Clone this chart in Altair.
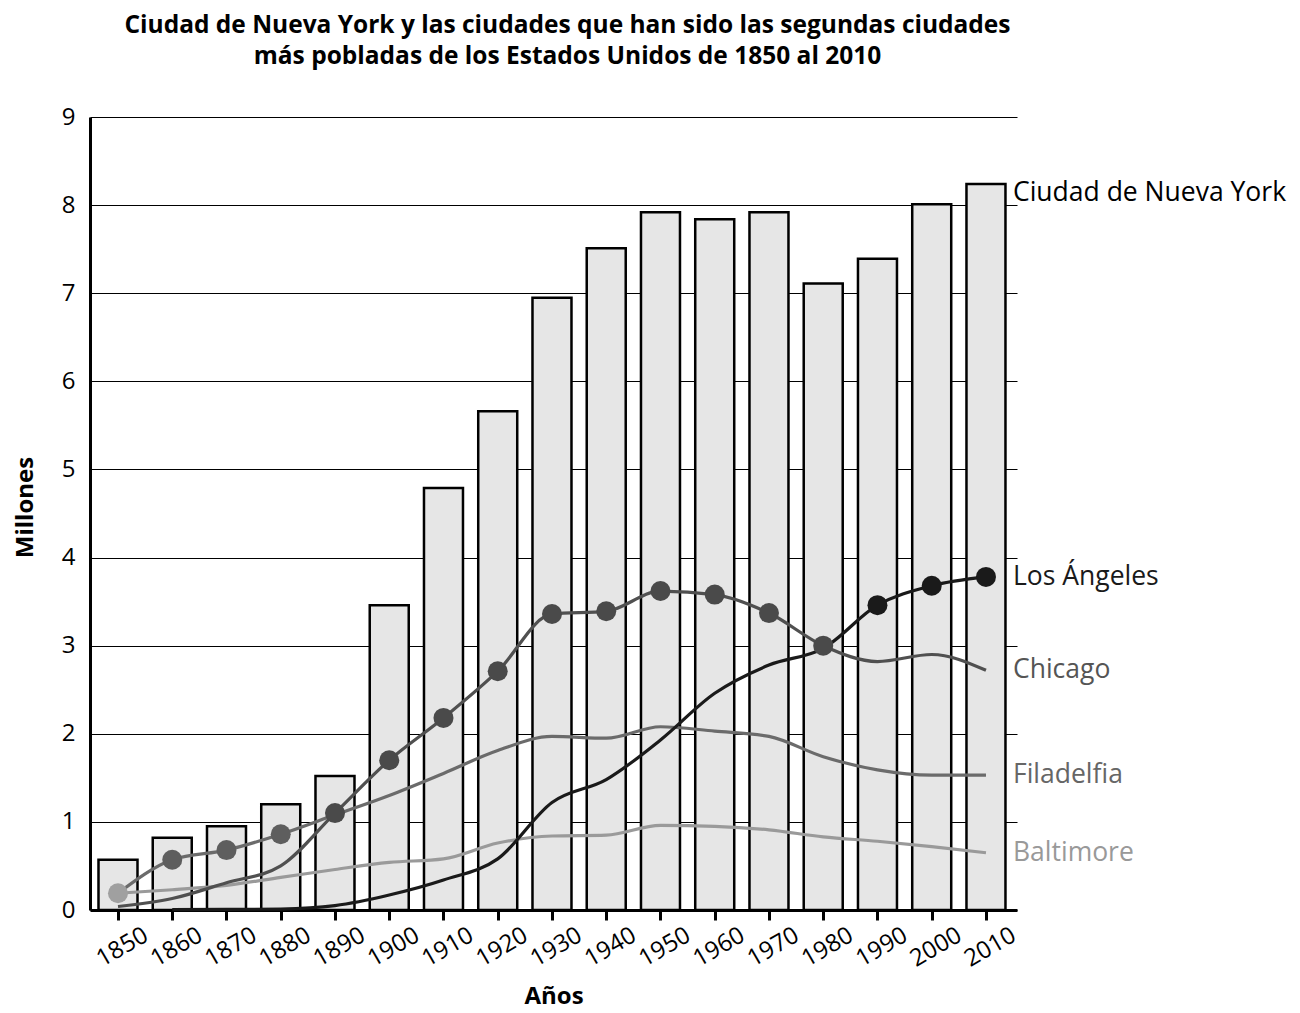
import altair as alt
import pandas as pd

years = [1850, 1860, 1870, 1880, 1890, 1900, 1910, 1920, 1930, 1940,
         1950, 1960, 1970, 1980, 1990, 2000, 2010]
nyc = [0.57, 0.82, 0.95, 1.20, 1.52, 3.46, 4.79, 5.66, 6.95, 7.51,
       7.92, 7.84, 7.92, 7.11, 7.39, 8.01, 8.24]
la_years = years[1:]
los_angeles = [0.005, 0.006, 0.011, 0.05, 0.17, 0.34, 0.58, 1.22, 1.48,
               1.93, 2.46, 2.78, 2.97, 3.46, 3.68, 3.78]
chicago = [0.04, 0.13, 0.31, 0.50, 1.10, 1.70, 2.18, 2.71, 3.36, 3.39,
           3.62, 3.58, 3.37, 3.00, 2.82, 2.90, 2.72]
filadelfia = [0.19, 0.57, 0.68, 0.86, 1.08, 1.30, 1.55, 1.81, 1.97, 1.95,
              2.08, 2.03, 1.97, 1.74, 1.59, 1.53, 1.53]
baltimore = [0.19, 0.23, 0.28, 0.37, 0.46, 0.54, 0.58, 0.76, 0.84, 0.85,
             0.96, 0.95, 0.91, 0.83, 0.78, 0.72, 0.65]
second_city = (["Baltimore"] + ["Filadelfia"] * 3 + ["Chicago"] * 10
               + ["Los Ángeles"] * 3)

cities = ["Baltimore", "Filadelfia", "Chicago", "Los Ángeles"]
line_colors = ["#9a9a9a", "#6b6b6b", "#505050", "#1a1a1a"]
point_colors = ["#a0a0a0", "#5e5e5e", "#4a4a4a", "#1a1a1a"]
label_colors = ["#999999", "#666666", "#555555", "#1a1a1a"]

FONT = "Open Sans"
BFONT = "Open Sans"

series = {
    "Baltimore": (years, baltimore),
    "Filadelfia": (years, filadelfia),
    "Chicago": (years, chicago),
    "Los Ángeles": (la_years, los_angeles),
}

bars_df = pd.DataFrame({"year": years, "value": nyc})
lines_df = pd.DataFrame(
    [{"city": c, "year": y, "value": v}
     for c in cities for y, v in zip(*series[c])]
)
lookup = {c: dict(zip(*series[c])) for c in cities}
points_df = pd.DataFrame(
    [{"city": c, "year": y, "value": lookup[c][y]}
     for y, c in zip(years, second_city)]
)
labels_df = pd.DataFrame(
    [{"city": c, "year": series[c][0][-1], "value": series[c][1][-1]}
     for c in cities]
)
nyc_label_df = pd.DataFrame(
    {"city": ["Ciudad de Nueva York"], "year": [years[-1]], "value": [nyc[-1]]}
)

xscale = alt.Scale(domain=[1844.84, 2015.72], nice=False, zero=False, padding=0)
yscale = alt.Scale(domain=[0, 9], nice=False, padding=0)

xaxis = alt.Axis(
    values=years, format="d", labelAngle=-30, labelAlign="center",
    labelBaseline="middle", labelPadding=27, labelOffset=4,
    labelOverlap=False, labelBound=False, labelFlush=False,
    labelFont=FONT, labelFontSize=24, labelColor="black",
    tickSize=10, tickWidth=3, tickColor="black",
    domainColor="black", domainWidth=3, grid=False,
    title="Años", titleFont=BFONT, titleFontSize=24, titleFontWeight="bold",
    titleColor="black", titleY=86, titleBaseline="middle",
)
yaxis = alt.Axis(
    values=list(range(10)), format="d", labelFont=FONT, labelFontSize=24,
    labelColor="black", labelPadding=15, ticks=False,
    domainColor="black", domainWidth=3,
    grid=True, gridColor="black", gridWidth=1.2,
    title="Millones", titleFont=BFONT, titleFontSize=24,
    titleFontWeight="bold", titleColor="black", titleX=-65, titleY=390,
    titleBaseline="middle",
)

bars = alt.Chart(bars_df).mark_bar(
    size=39, fill="#e6e6e6", stroke="black", strokeWidth=2.5
).encode(
    x=alt.X("year:Q", scale=xscale, axis=xaxis),
    y=alt.Y("value:Q", scale=yscale, axis=yaxis),
)

lines = alt.Chart(lines_df).mark_line(
    interpolate="monotone", strokeWidth=3.2
).encode(
    x=alt.X("year:Q", scale=xscale),
    y=alt.Y("value:Q", scale=yscale),
    color=alt.Color("city:N", scale=alt.Scale(domain=cities, range=line_colors),
                    legend=None),
    order=alt.Order("year:Q"),
)

points = alt.Chart(points_df).mark_point(
    filled=True, size=400, opacity=1, shape="circle"
).encode(
    x=alt.X("year:Q", scale=xscale),
    y=alt.Y("value:Q", scale=yscale),
    color=alt.Color("city:N", scale=alt.Scale(domain=cities, range=point_colors),
                    legend=None),
)

labels = alt.Chart(labels_df).mark_text(
    align="left", baseline="middle", dx=27, font=FONT, fontSize=26.5
).encode(
    x=alt.X("year:Q", scale=xscale),
    y=alt.Y("value:Q", scale=yscale),
    text="city:N",
    color=alt.Color("city:N", scale=alt.Scale(domain=cities, range=label_colors),
                    legend=None),
)

nyc_label = alt.Chart(nyc_label_df).mark_text(
    align="left", baseline="middle", dx=27, dy=9, font=FONT, fontSize=26.5,
    color="black"
).encode(
    x=alt.X("year:Q", scale=xscale),
    y=alt.Y("value:Q", scale=yscale),
    text="city:N",
)

chart = alt.layer(bars, lines, points, labels, nyc_label).resolve_scale(
    color="independent"
).properties(
    width=927, height=793, autosize="none",
    padding={"left": 82, "top": 109, "right": 275, "bottom": 100},
    title=alt.TitleParams(
        text=["Ciudad de Nueva York y las ciudades que han sido las segundas ciudades",
              "más pobladas de los Estados Unidos de 1850 al 2010"],
        font=BFONT, fontSize=24.5, fontWeight="bold", color="black",
        anchor="middle", frame="group", lineHeight=31, offset=36, dx=14,
    ),
).configure_view(stroke=None)

chart.save("out.html", embed_options={"renderer": "svg", "actions": False})
